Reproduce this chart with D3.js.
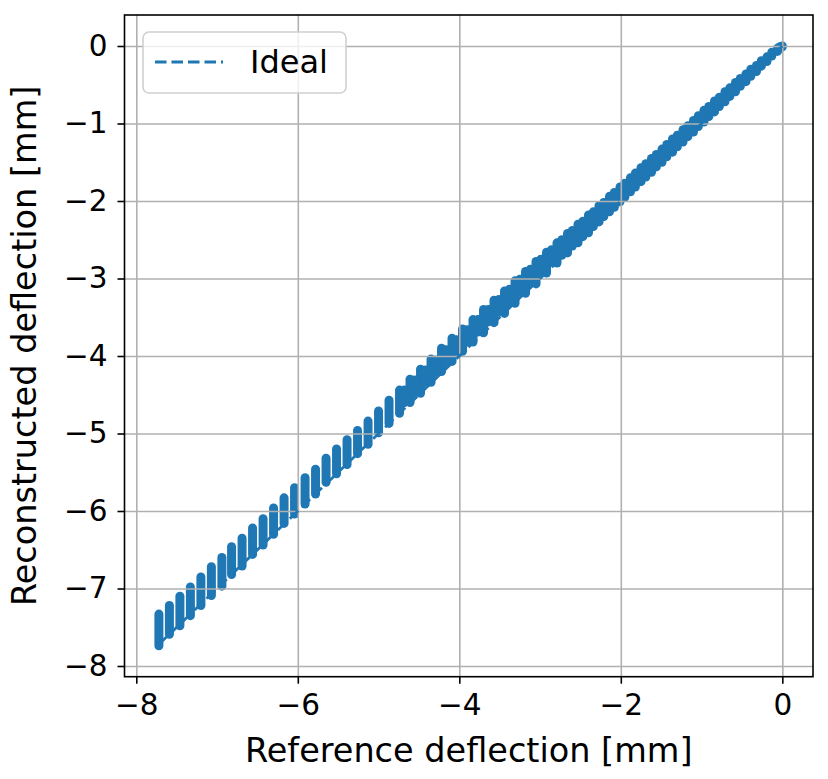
<!DOCTYPE html>
<html>
<head>
<meta charset="utf-8">
<script src="https://cdn.jsdelivr.net/npm/d3@7"></script>
<style>
    body { margin: 0; background: #fff; }
    .grid line { stroke: #b0b0b0; stroke-width: 1.6px; }
    .grid path { display: none; }
    text { font-family: "DejaVu Sans", sans-serif; fill: #000; }
</style>
</head>
<body>
<div class="svg-container"></div>
<script>
// reference deflection of each column of points [mm]
var colRef = [-7.72, -7.59, -7.46, -7.33, -7.20, -7.07, -6.94, -6.82, -6.69, -6.56,
    -6.43, -6.30, -6.17, -6.04, -5.91, -5.78, -5.65, -5.52, -5.39, -5.26,
    -5.13, -5.00, -4.87, -4.74, -4.61, -4.48, -4.35, -4.22, -4.09, -3.96,
    -3.83, -3.70, -3.57, -3.44, -3.31, -3.18, -3.05, -2.92, -2.79, -2.66,
    -2.53, -2.40, -2.27, -2.14, -2.01, -1.88, -1.75, -1.62, -1.49, -1.36,
    -1.23, -1.10, -0.97, -0.84, -0.71, -0.58, -0.45, -0.32, -0.19, -0.06, 0.00];

// lowest reconstructed value in each column [mm]
var colLow = [-7.74, -7.59, -7.48, -7.35, -7.22, -7.09, -6.97, -6.82, -6.71, -6.56,
    -6.44, -6.30, -6.16, -6.04, -5.91, -5.78, -5.63, -5.52, -5.40, -5.26,
    -5.14, -4.99, -4.87, -4.74, -4.60, -4.48, -4.34, -4.20, -4.07, -3.94,
    -3.82, -3.70, -3.57, -3.45, -3.32, -3.19, -3.07, -2.93, -2.80, -2.67,
    -2.54, -2.41, -2.27, -2.14, -2.01, -1.88, -1.75, -1.63, -1.50, -1.37,
    -1.24, -1.11, -0.98, -0.85, -0.72, -0.59, -0.46, -0.33, -0.20, -0.07, -0.01];

// highest reconstructed value in each column [mm]
var colHigh = [-7.33, -7.22, -7.10, -6.98, -6.85, -6.72, -6.60, -6.46, -6.35, -6.22,
    -6.10, -5.96, -5.83, -5.70, -5.57, -5.46, -5.32, -5.20, -5.08, -4.96,
    -4.84, -4.71, -4.57, -4.44, -4.30, -4.17, -4.04, -3.90, -3.77, -3.65,
    -3.53, -3.40, -3.28, -3.16, -3.03, -2.91, -2.78, -2.66, -2.54, -2.42,
    -2.30, -2.18, -2.06, -1.94, -1.82, -1.70, -1.57, -1.45, -1.33, -1.20,
    -1.08, -0.96, -0.83, -0.71, -0.59, -0.47, -0.36, -0.25, -0.14, -0.03, 0.00];

// shorter clusters sitting between the columns [mm]
var midRef = [-4.68, -4.55, -4.42, -4.29, -4.16, -4.03, -3.90, -3.77, -3.64, -3.51,
    -3.38, -3.25, -3.12, -2.99, -2.86, -2.73, -2.60, -2.47, -2.34, -2.21,
    -2.08, -1.95, -1.82, -1.69, -1.56, -1.43, -1.30, -1.17, -1.04, -0.91,
    -0.78, -0.65, -0.52, -0.39, -0.26, -0.13, -0.03];
var midLow = [-4.60, -4.47, -4.34, -4.21, -4.08, -3.95, -3.82, -3.69, -3.56, -3.43,
    -3.30, -3.17, -3.04, -2.91, -2.79, -2.70, -2.58, -2.46, -2.33, -2.20,
    -2.08, -1.95, -1.82, -1.69, -1.56, -1.43, -1.30, -1.17, -1.04, -0.91,
    -0.78, -0.65, -0.52, -0.39, -0.26, -0.13, -0.03];
var midHigh = [-4.44, -4.31, -4.18, -4.05, -3.92, -3.79, -3.66, -3.53, -3.40, -3.27,
    -3.14, -3.01, -2.88, -2.75, -2.63, -2.50, -2.38, -2.26, -2.14, -2.02,
    -1.89, -1.77, -1.64, -1.52, -1.40, -1.27, -1.15, -1.03, -0.90, -0.78,
    -0.66, -0.54, -0.42, -0.30, -0.19, -0.08, -0.01];

// ideal line end points
var idealRef = [-7.72, 0.00];
var idealRec = [-7.72, 0.00];

var xTicks = [-8, -6, -4, -2, 0];
var yTicks = [0, -1, -2, -3, -4, -5, -6, -7, -8];

// set up margin
var margin = {top: 15, right: 15, bottom: 102.3, left: 124.5},
    width = 828 - margin.left - margin.right,
    height = 779 - margin.top - margin.bottom;

var svg = d3.select(".svg-container").append("svg")
    .attr("width", 828)
    .attr("height", 779);

var g = svg.append("g")
    .attr("transform", "translate(" + margin.left + "," + margin.top + ")");

var xScale = d3.scaleLinear().domain([-8.146, 0.38]).range([0, width]),
    yScale = d3.scaleLinear().domain([-8.138, 0.40]).range([height, 0]);

var blue = "#1f77b4";

var columns = colRef.map(function (x, i) {
    return {x: x, lo: colLow[i], hi: colHigh[i]};
}).concat(midRef.map(function (x, i) {
    return {x: x, lo: midLow[i], hi: midHigh[i]};
}));

// points first, the grid is drawn over them like in matplotlib
g.append("g")
    .attr("class", "points")
    .selectAll("line")
    .data(columns)
    .enter().append("line")
    .attr("x1", function (d) { return xScale(d.x); })
    .attr("x2", function (d) { return xScale(d.x); })
    .attr("y1", function (d) { return yScale(d.lo); })
    .attr("y2", function (d) { return yScale(d.hi); })
    .attr("stroke", blue)
    .attr("stroke-width", 9)
    .attr("stroke-linecap", "round");

// grid lines
g.append("g")
    .attr("class", "grid")
    .attr("transform", "translate(0," + height + ")")
    .call(d3.axisBottom(xScale).tickValues(xTicks).tickSize(-height).tickFormat(""));

g.append("g")
    .attr("class", "grid")
    .call(d3.axisLeft(yScale).tickValues(yTicks).tickSize(-width).tickFormat(""));

// ideal line
var line = d3.line()
    .x(function (d) { return xScale(d[0]); })
    .y(function (d) { return yScale(d[1]); });

g.append("path")
    .datum(d3.zip(idealRef, idealRec))
    .attr("d", line)
    .attr("fill", "none")
    .attr("stroke", blue)
    .attr("stroke-width", 2.8)
    .attr("stroke-dasharray", "11.5,5");

// axes
var xAxis = g.append("g")
    .attr("transform", "translate(0," + height + ")")
    .call(d3.axisBottom(xScale).tickValues(xTicks).tickSize(7).tickPadding(10).tickFormat(d3.format("d")));

var yAxis = g.append("g")
    .call(d3.axisLeft(yScale).tickValues(yTicks).tickSize(7).tickPadding(10).tickFormat(d3.format("d")));

[xAxis, yAxis].forEach(function (a) {
    a.select(".domain").remove();
    a.selectAll(".tick line").attr("stroke", "#000").attr("stroke-width", 1.6);
    a.selectAll(".tick text")
        .style("font-family", "'DejaVu Sans', sans-serif")
        .style("font-size", "29.5px")
        .attr("fill", "#000");
});

// frame
g.append("rect")
    .attr("width", width)
    .attr("height", height)
    .attr("fill", "none")
    .attr("stroke", "#000")
    .attr("stroke-width", 1.6);

// axis labels
svg.append("text")
    .attr("x", margin.left + width / 2)
    .attr("y", 761.5)
    .style("text-anchor", "middle")
    .style("font-size", "33.5px")
    .text("Reference deflection [mm]");

svg.append("text")
    .attr("transform", "translate(35.5," + (margin.top + height / 2) + ") rotate(-90)")
    .style("text-anchor", "middle")
    .style("font-size", "33.5px")
    .text("Reconstructed deflection [mm]");

// legend
var legend = svg.append("g").attr("transform", "translate(143,32)");

legend.append("rect")
    .attr("width", 203)
    .attr("height", 61)
    .attr("rx", 6)
    .attr("fill", "#fff")
    .attr("fill-opacity", 0.8)
    .attr("stroke", "#d0d0d0")
    .attr("stroke-width", 1.6);

legend.append("line")
    .attr("x1", 12)
    .attr("x2", 80)
    .attr("y1", 30)
    .attr("y2", 30)
    .attr("stroke", blue)
    .attr("stroke-width", 2.8)
    .attr("stroke-dasharray", "11.5,5");

legend.append("text")
    .attr("x", 107)
    .attr("y", 41)
    .style("font-size", "32px")
    .text("Ideal");
</script>
</body>
</html>
